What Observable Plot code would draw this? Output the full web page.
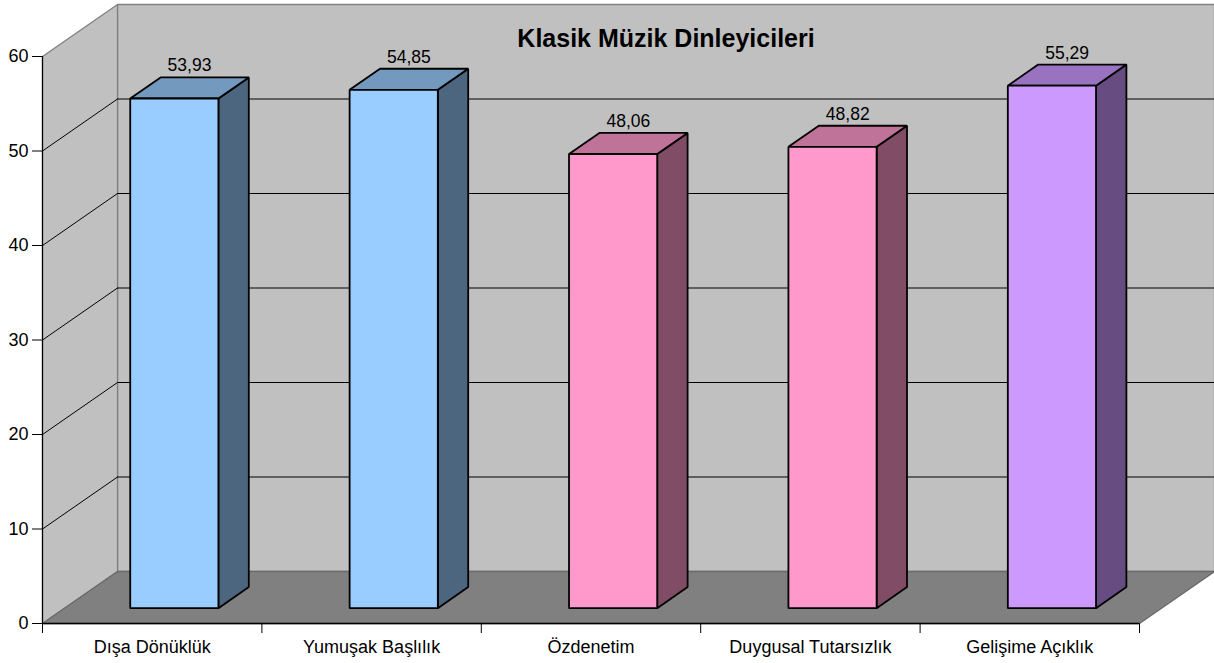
<!DOCTYPE html>
<html><head><meta charset="utf-8">
<script src="https://cdn.jsdelivr.net/npm/d3@7"></script>
<script src="https://cdn.jsdelivr.net/npm/@observablehq/plot@0.6"></script>
<style>html,body{margin:0;padding:0;background:#fff;} svg{display:block}</style>
</head><body><div id="chart"></div>
<script>
const categories = ["Dışa Dönüklük","Yumuşak Başlılık","Özdenetim","Duygusal Tutarsızlık","Gelişime Açıklık"];
const values = [53.93, 54.85, 48.06, 48.82, 55.29];
const valueLabels = ["53,93","54,85","48,06","48,82","55,29"];
const yTicks = [0,10,20,30,40,50,60];
const frontColors = ["#99CCFF","#99CCFF","#FF99CC","#FF99CC","#CC99FF"];
const sideColors  = ["#4D6680","#4D6680","#804C66","#804C66","#664C80"];
const topColors   = ["#7399BF","#7399BF","#BF7399","#BF7399","#9973BF"];
const title = "Klasik Müzik Dinleyicileri";

const W = 1214, H = 663, mL = 42, mR = 75, mT = 56, mB = 40;
const yMax = 60;
const n = categories.length;
// oblique depth of the 3D box, in pixels
const depthX = 75, depthY = 52;
const pxPerCat = (W - mL - mR) / n, pxPerVal = (H - mT - mB) / yMax;
const Dc = depthX / pxPerCat, Dv = depthY / pxPerVal;
const P = (c, v, d) => ({x: c + d * Dc, y: v + d * Dv});
const d0 = 0.295, d1 = 0.70, halfW = 0.201;

const polys = [];
function poly(id, fill, stroke, pts) { pts.forEach(p => polys.push({id, fill, stroke, x: p.x, y: p.y})); }
// walls & floor
poly("back", "#C0C0C0", "#808080", [P(0,0,1), P(n,0,1), P(n,yMax,1), P(0,yMax,1)]);
poly("left", "#C0C0C0", "#808080", [P(0,0,0), P(0,0,1), P(0,yMax,1), P(0,yMax,0)]);
poly("floor", "#808080", "#6A6A6A", [P(0,0,0), P(n,0,0), P(n,0,1), P(0,0,1)]);

const grid = [];
yTicks.filter(t => t > 0 && t < yMax).forEach(t => {
  [P(0,t,1), P(n,t,1)].forEach(p => grid.push({id: "b" + t, ...p}));
  [P(0,t,0), P(0,t,1)].forEach(p => grid.push({id: "l" + t, ...p}));
});

const bars = [];
function bpoly(id, fill, pts) { pts.forEach(p => bars.push({id, fill, x: p.x, y: p.y})); }
values.forEach((v, i) => {
  const c0 = i + 0.5 - halfW, c1 = i + 0.5 + halfW;
  bpoly("s" + i, sideColors[i], [P(c1,0,d0), P(c1,0,d1), P(c1,v,d1), P(c1,v,d0)]);
  bpoly("t" + i, topColors[i], [P(c0,v,d0), P(c1,v,d0), P(c1,v,d1), P(c0,v,d1)]);
  bpoly("f" + i, frontColors[i], [P(c0,0,d0), P(c1,0,d0), P(c1,v,d0), P(c0,v,d0)]);
});

const labelPos = values.map((v, i) => ({...P(i + 0.5, v, (d0 + d1) / 2), yb: P(0, v, d1).y, text: valueLabels[i]}));
const titlePos = [{...P(n / 2, yMax, 1), text: title}];

const chart = Plot.plot({
  width: W, height: H,
  marginLeft: mL, marginRight: mR, marginTop: mT, marginBottom: mB,
  x: {domain: [0, n]},
  y: {domain: [0, yMax]},
  color: {type: "identity"},
  style: {fontFamily: "'Liberation Sans', Arial, sans-serif", fontSize: "17px", background: "white", color: "black", overflow: "visible"},
  marks: [
    Plot.line(polys, {x: "x", y: "y", z: "id", fill: "fill", stroke: "stroke", strokeWidth: 1.3, curve: "linear-closed"}),
    Plot.line(grid, {x: "x", y: "y", z: "id", stroke: "black", strokeWidth: 1}),
    Plot.line(bars, {x: "x", y: "y", z: "id", fill: "fill", stroke: "black", strokeWidth: 1.8, strokeLinejoin: "miter", curve: "linear-closed"}),
    Plot.ruleX([0], {y1: 0, y2: yMax, stroke: "black", strokeWidth: 1.2}),
    Plot.ruleY([0], {x1: 0, x2: n, stroke: "black", strokeWidth: 1.5}),
    Plot.axisY({ticks: yTicks, tickSize: 10, tickPadding: 4, fontSize: 18, label: null, stroke: "black"}),
    Plot.axisX({ticks: d3.range(n + 1), tickSize: 10, tickFormat: () => "", label: null, stroke: "black"}),
    Plot.text(categories, {x: (d, i) => i + 0.5, y: () => 0, dy: 24, fontSize: 18, fill: "black"}),
    Plot.text(labelPos, {x: "x", y: "yb", text: "text", dy: -6, lineAnchor: "bottom", fontSize: 17.5, fill: "black"}),
    Plot.text(titlePos, {x: "x", y: "y", text: "text", dy: 34, fontSize: 25, fontWeight: "bold", fill: "black"})
  ]
});
document.getElementById("chart").appendChild(chart);
</script>
</body></html>
